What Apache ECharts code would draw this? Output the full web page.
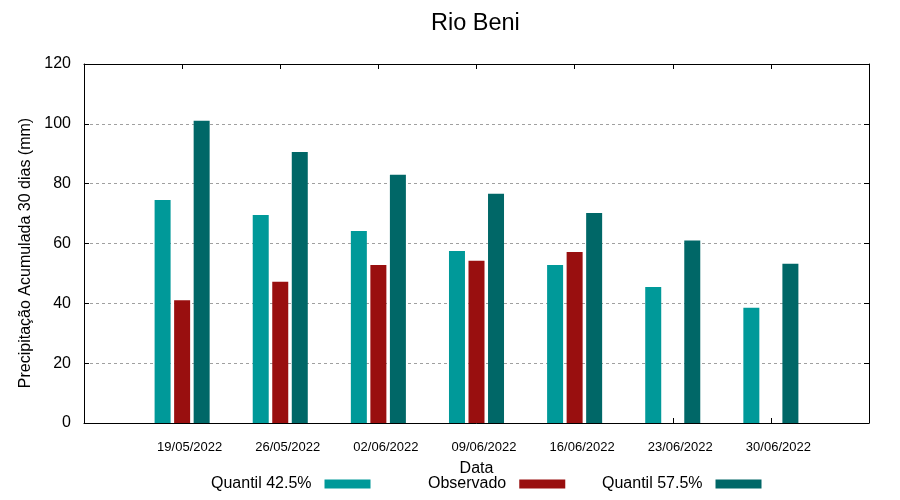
<!DOCTYPE html>
<html>
<head>
<meta charset="utf-8">
<script src="https://cdn.jsdelivr.net/npm/echarts@6/dist/echarts.min.js"></script>
<style>html,body{margin:0;padding:0;background:#fff;}#c{width:900px;height:500px;}</style>
</head>
<body>
<div id="c"></div>
<script>
const categories = ['19/05/2022','26/05/2022','02/06/2022','09/06/2022','16/06/2022','23/06/2022','30/06/2022'];
const quantil425 = [74.5, 69.5, 64.2, 57.5, 52.8, 45.5, 38.5];
const observado = [41.0, 47.2, 52.8, 54.2, 57.2, null, null];
const quantil575 = [101.0, 90.6, 83.0, 76.6, 70.2, 61.0, 53.2];
const seriesNames = ['Quantil 42.5%', 'Observado', 'Quantil 57.5%'];
const yTicks = [0, 20, 40, 60, 80, 100, 120];

const FONT = 'Liberation Sans';
const cats = [''].concat(categories, ['']);
const pad = a => [null].concat(a, [null]);
const colors = ['#009999', '#990f0f', '#006767'];

const chart = echarts.init(document.getElementById('c'), null, {renderer: 'canvas'});
const mkLegend = (name, left) => ({
  data: [name], left: left, top: 476, align: 'right', orient: 'horizontal',
  itemWidth: 46, itemHeight: 9, icon: 'rect', selectedMode: false, padding: 0,
  textStyle: {fontFamily: FONT, fontSize: 16, color: '#000', padding: [0, 8, 0, 0]}
});
chart.setOption({
  animation: false,
  title: {text: 'Rio Beni', left: 431, top: 12, padding: 0,
    textStyle: {fontFamily: FONT, fontSize: 23.5, fontWeight: 'normal', color: '#000'}},
  legend: [mkLegend(seriesNames[0], 211), mkLegend(seriesNames[1], 428), mkLegend(seriesNames[2], 602)],
  grid: {left: 84, right: 31, top: 64, bottom: 77, containLabel: false},
  xAxis: [{
    type: 'category', data: cats, boundaryGap: false, position: 'bottom',
    name: 'Data', nameLocation: 'middle', nameGap: 38,
    nameTextStyle: {fontFamily: FONT, fontSize: 16, color: '#000'},
    axisLine: {onZero: false, lineStyle: {color: '#000', width: 1}},
    axisTick: {inside: true, length: 5, interval: 0, lineStyle: {color: '#000'}},
    axisLabel: {interval: 0, margin: 18, fontFamily: FONT, fontSize: 13, color: '#000', padding: [0, 0, 0, 15]},
    splitLine: {show: false}
  }, {
    type: 'category', data: cats, boundaryGap: false, position: 'top',
    axisLine: {onZero: false, lineStyle: {color: '#000', width: 1}},
    axisTick: {inside: true, length: 5, interval: 0, lineStyle: {color: '#000'}},
    axisLabel: {show: false}, splitLine: {show: false}
  }],
  yAxis: [{
    type: 'value', min: yTicks[0], max: yTicks[yTicks.length - 1], interval: 20, position: 'left',
    name: 'Precipitação Acumulada 30 dias (mm)', nameLocation: 'middle', nameGap: 50,
    nameTextStyle: {fontFamily: FONT, fontSize: 16, color: '#000', padding: [0, 19, 0, 0]},
    axisLine: {show: true, lineStyle: {color: '#000', width: 1}},
    axisTick: {show: true, inside: true, length: 5, lineStyle: {color: '#000'}},
    axisLabel: {margin: 13, fontFamily: FONT, fontSize: 16, color: '#000'},
    splitLine: {show: true, lineStyle: {color: '#a0a0a0', type: [3, 3], width: 1}}
  }, {
    type: 'value', min: yTicks[0], max: yTicks[yTicks.length - 1], interval: 20, position: 'right',
    axisLine: {show: true, lineStyle: {color: '#000', width: 1}},
    axisTick: {show: true, inside: true, length: 5, lineStyle: {color: '#000'}},
    axisLabel: {show: false}, splitLine: {show: false}
  }],
  series: [
    {name: seriesNames[0], type: 'bar', data: pad(quantil425), barWidth: 16, barGap: '22%', itemStyle: {color: colors[0]}},
    {name: seriesNames[1], type: 'bar', data: pad(observado), barWidth: 16, barGap: '22%', itemStyle: {color: colors[1]}},
    {name: seriesNames[2], type: 'bar', data: pad(quantil575), barWidth: 16, barGap: '22%', itemStyle: {color: colors[2]}}
  ]
});
</script>
</body>
</html>
